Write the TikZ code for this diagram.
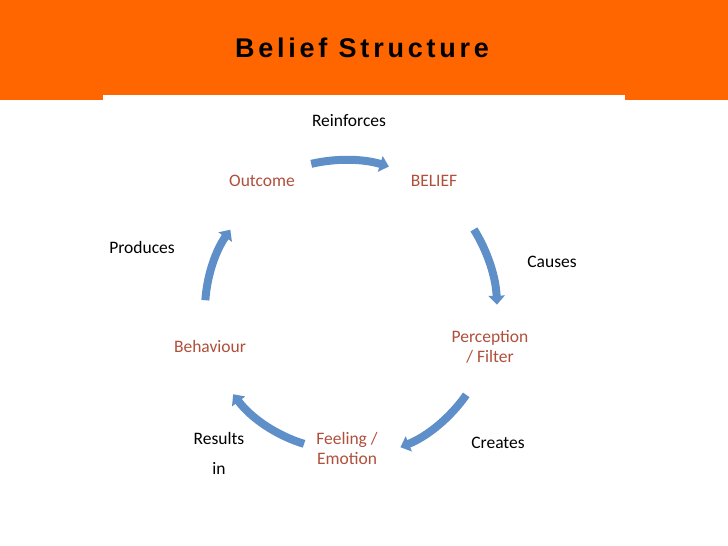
\documentclass[tikz,border=0pt]{standalone}
\usepackage{fontspec}
\setmainfont{Carlito}
\newfontfamily\titlefont[LetterSpace=14]{Liberation Sans}
\usetikzlibrary{arrows.meta}
\definecolor{orng}{HTML}{FF6600}
\definecolor{cycblue}{HTML}{5F8FC8}
\definecolor{lbl}{HTML}{B0503C}
\begin{document}
\begin{tikzpicture}[x=1pt,y=1pt,
  stage/.style={font=\fontsize{17.5}{20}\selectfont, text=lbl, align=center},
  verb/.style={font=\fontsize{17.5}{20}\selectfont, text=black, align=center},
  cyc/.style={draw=cycblue, line width=8pt, -{Triangle[width=16pt,length=9pt]}}]
\useasboundingbox (0,0) rectangle (728,546);
\fill[white] (0,0) rectangle (728,546);
\fill[orng] (0,446) rectangle (728,546);
\fill[white] (103,0) rectangle (625,451);
\node (title) at (362,498) {\titlefont\bfseries\fontsize{27}{31}\selectfont Belief Structure};
\coordinate (c) at (345,236);
\node[stage] (outcome) at (262,365) {Outcome};
\node[stage] (belief) at (434,365) {BELIEF};
\node[stage] (perc) at (490,199) {Perception\\/ Filter};
\node[stage] (feel) at (347,98) {Feeling /\\Emotion};
\node[stage] (beh) at (210,200) {Behaviour};
\node[verb] (reinf) at (349,425) {Reinforces};
\node[verb] (prod) at (142,299) {Produces};
\node[verb] (causes) at (552,284) {Causes};
\node[verb] (creates) at (498,103) {Creates};
\node[verb] (results) at (219,108) {Results};
\node[verb] (in) at (219,78) {in};
\draw[cyc] ([shift={(103:150)}]c) arc[start angle=103,end angle=73,radius=150];
\draw[cyc] ([shift={(32:152)}]c) arc[start angle=32,end angle=2,radius=152];
\draw[cyc] ([shift={(-35:148)}]c) arc[start angle=-35,end angle=-68,radius=148];
\draw[cyc] ([shift={(-107:140)}]c) arc[start angle=-107,end angle=-143,radius=140];
\draw[cyc] ([shift={(176:140)}]c) arc[start angle=176,end angle=145,radius=140];
\end{tikzpicture}
\end{document}
